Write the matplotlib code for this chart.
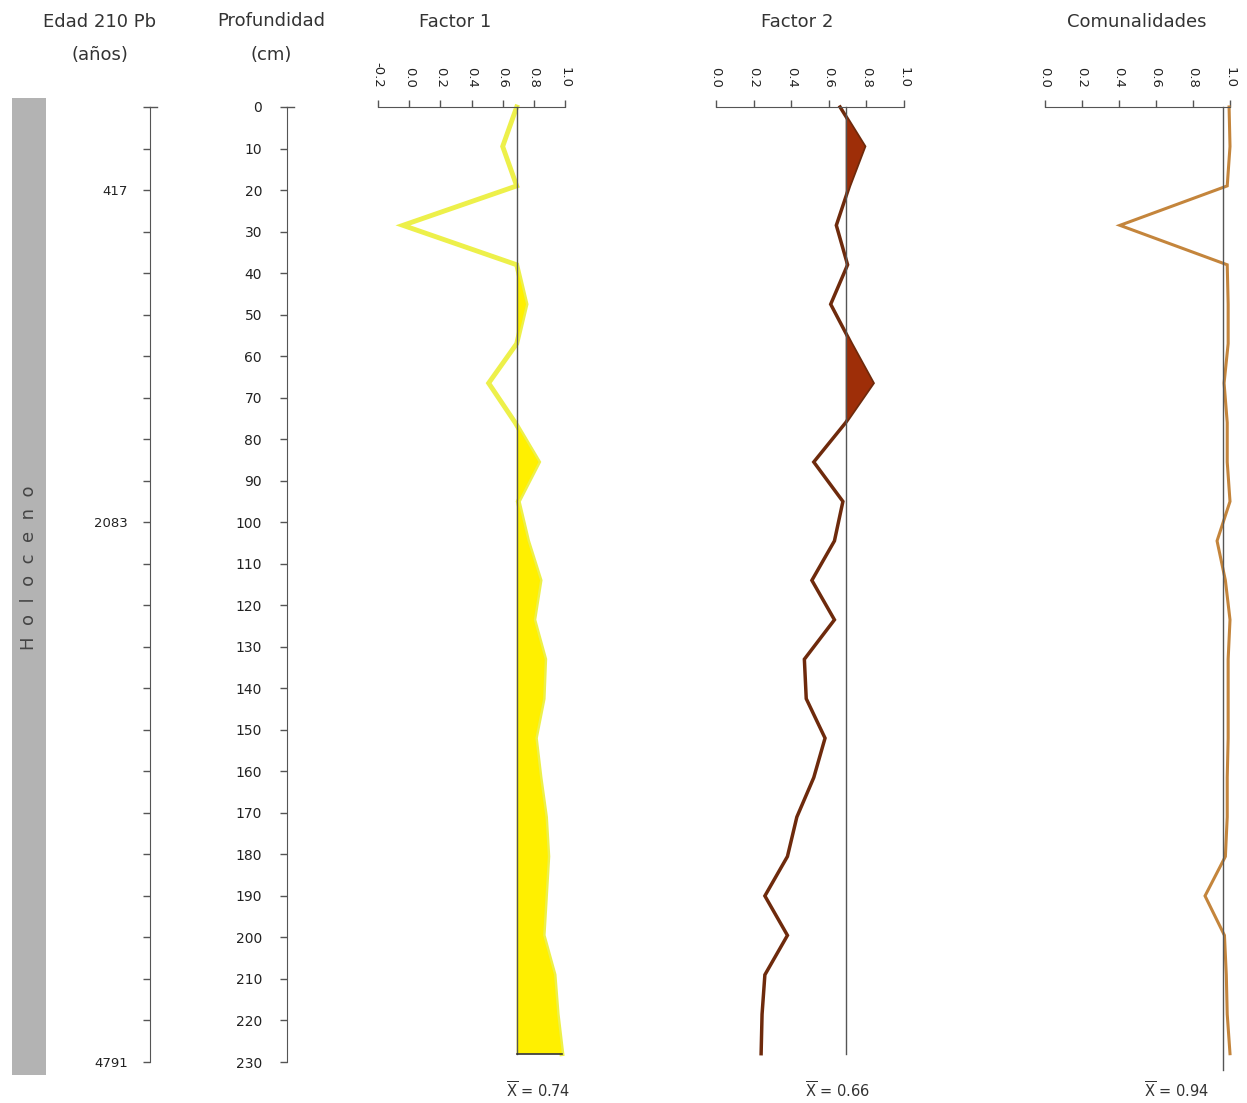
import matplotlib.pyplot as plt
from matplotlib.patches import Rectangle

W, H = 1247, 1103
fig = plt.figure(figsize=(W / 100, H / 100), dpi=100)
plt.rcParams['font.family'] = ['DejaVu Sans']

# sample depths (cm)
depth = [0, 9.5, 19, 28.5, 38, 47.5, 57, 66.5, 76, 85.5, 95, 104.5, 114,
         123.5, 133, 142.5, 152, 161.5, 171, 180.5, 190, 199.5, 209, 218.5, 228]

factor1 = [0.69, 0.60, 0.69, -0.04, 0.69, 0.75, 0.69, 0.51, 0.68, 0.83, 0.70, 0.76, 0.84,
           0.80, 0.87, 0.86, 0.81, 0.84, 0.875, 0.89, 0.875, 0.86, 0.93, 0.95, 0.98]
factor2 = [0.66, 0.79, 0.71, 0.64, 0.70, 0.61, 0.72, 0.835, 0.69, 0.52, 0.675, 0.63, 0.51,
           0.63, 0.47, 0.48, 0.58, 0.52, 0.43, 0.38, 0.26, 0.38, 0.26, 0.245, 0.24]
comunal = [0.995, 1.0, 0.985, 0.405, 0.985, 0.99, 0.99, 0.968, 0.985, 0.985, 1.0, 0.93, 0.975,
           1.0, 0.99, 0.99, 0.99, 0.985, 0.985, 0.975, 0.865, 0.97, 0.98, 0.985, 1.0]

# reference (mean) line positions and printed means
ref_lines = [0.69, 0.69, 0.962]
mean_text = ['0.74', '0.66', '0.94']

depth_ticks = list(range(0, 240, 10))
age_labels = {20: '417', 100: '2083', 230: '4791'}

txt = '#333333'
axcol = '#555555'

y_top, y_bot = 107, 1062
bottom = 1 - y_bot / H
height = (y_bot - y_top) / H


def rect(x0, x1):
    return [x0 / W, bottom, (x1 - x0) / W, height]


def clean(ax):
    for s in ax.spines.values():
        s.set_visible(False)
    ax.patch.set_alpha(0)


# ---- Holoceno bar
fig.patches.append(Rectangle((12 / W, 1 - 1075 / H), 34 / W, (1075 - 98) / H,
                             transform=fig.transFigure, color='#b3b3b3', lw=0))
fig.text(29 / W, 1 - 568 / H, 'H  o  l  o  c  e  n  o', rotation=90, ha='center',
         va='center', fontsize=13, color='#444444')

# ---- vertical scales (age and depth)
for xpix, labels, lsize, pad in [(150, [age_labels.get(d, '') for d in depth_ticks], 9.5, 11),
                                 (287, [str(d) for d in depth_ticks], 10, 13)]:
    ax = fig.add_axes(rect(xpix, xpix + 7))
    clean(ax)
    ax.spines['left'].set_visible(True)
    ax.spines['left'].set_color(axcol)
    ax.set_ylim(230, 0)
    ax.set_xlim(0, 1)
    ax.set_xticks([])
    ax.set_yticks(depth_ticks)
    ax.set_yticklabels(labels)
    ax.tick_params(axis='y', direction='out', length=5, width=1, color=axcol,
                   labelsize=lsize, labelcolor='#222222', pad=pad)
    ax.plot([0, 1], [0, 0], color=axcol, lw=1, clip_on=False,
            transform=ax.get_yaxis_transform())

fig.text(100 / W, 1 - 22 / H, 'Edad 210 Pb', ha='center', va='center', fontsize=13, color=txt)
fig.text(100 / W, 1 - 55 / H, '(años)', ha='center', va='center', fontsize=13, color=txt)
fig.text(271 / W, 1 - 21 / H, 'Profundidad', ha='center', va='center', fontsize=13, color=txt)
fig.text(271 / W, 1 - 55 / H, '(cm)', ha='center', va='center', fontsize=13, color=txt)

# ---- data panels
panels = [
    dict(title='Factor 1', vals=factor1, x0=378, x1=565, lo=-0.2, tx=455, mx=538,
         line='#edf04a', fill='#fff000', lw=3.5),
    dict(title='Factor 2', vals=factor2, x0=716, x1=904, lo=0.0, tx=797, mx=838,
         line='#6e2a0c', fill='#9e2e08', lw=2.5),
    dict(title='Comunalidades', vals=comunal, x0=1045, x1=1230, lo=0.0, tx=1137, mx=1177,
         line='#c4853c', fill=None, lw=2.2),
]

for i, p in enumerate(panels):
    ax = fig.add_axes(rect(p['x0'], p['x1']))
    clean(ax)
    ax.spines['top'].set_visible(True)
    ax.spines['top'].set_color(axcol)
    ax.set_xlim(p['lo'], 1.0)
    ax.set_ylim(230, 0)
    ax.set_yticks([])
    ticks = [round(p['lo'] + 0.2 * k, 1) for k in range(int(round((1.0 - p['lo']) / 0.2)) + 1)]
    ax.xaxis.tick_top()
    ax.set_xticks(ticks)
    ax.set_xticklabels([f'{t:.1f}' for t in ticks], rotation=-90)
    ax.tick_params(axis='x', direction='out', length=5, width=1, color=axcol,
                   labelsize=9.5, labelcolor='#222222', pad=9)

    ref = ref_lines[i]
    vals = p['vals']
    ax.plot(vals, depth, color=p['line'], lw=p['lw'], solid_joinstyle='miter',
            clip_on=False, zorder=2)
    if p['fill']:
        ax.fill_betweenx(depth, ref, vals, where=[v >= ref for v in vals],
                         interpolate=True, color=p['fill'], lw=0, zorder=3)
    end = depth[-1] + (4 if p['fill'] is None else 0)
    ax.plot([ref, ref], [0, end], color='#555555', lw=1, zorder=4, clip_on=False)
    if i == 0:
        ax.plot([ref, vals[-1]], [depth[-1], depth[-1]], color='#333333', lw=1.2, zorder=4)

    fig.text(p['tx'] / W, 1 - 22 / H, p['title'], ha='center', va='center',
             fontsize=13, color=txt)
    fig.text(p['mx'] / W, 1 - 1091 / H, r'$\overline{\mathrm{X}}$' + ' = ' + mean_text[i],
             ha='center', va='center', fontsize=10.5, color='#333333')

fig.savefig('out.png', dpi=100)
